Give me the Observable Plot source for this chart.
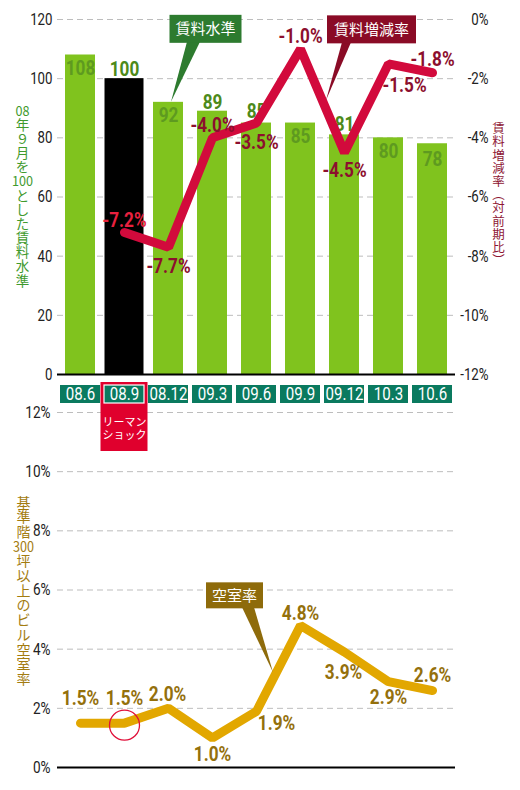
<!DOCTYPE html>
<html>
<head>
<meta charset="utf-8">
<script src="https://cdn.jsdelivr.net/npm/d3@7"></script>
<script src="https://cdn.jsdelivr.net/npm/@observablehq/plot@0.6"></script>
<style>
  body { margin: 0; background: #fff; }
  #wrap { position: relative; width: 520px; height: 790px; overflow: hidden; }
  #wrap svg { position: absolute; left: 0; overflow: visible; }
</style>
</head>
<body>
<div id="wrap"></div>
<script>
// --- data ---
const periods = ["08.6", "08.9", "08.12", "09.3", "09.6", "09.9", "09.12", "10.3", "10.6"];
const rentIndex = [108, 100, 92, 89, 85, 85, 81, 80, 78];          // 08年9月=100
const rentChange = [null, -7.2, -7.7, -4.0, -3.5, -1.0, -4.5, -1.5, -1.8]; // % 対前期比
const vacancy = [1.5, 1.5, 2.0, 1.0, 1.9, 4.8, 3.9, 2.9, 2.6];      // %
const lehman = "08.9";
const rentTicks = [0, 20, 40, 60, 80, 100, 120];
const changeTicks = [0, -2, -4, -6, -8, -10, -12];
const vacancyTicks = [0, 2, 4, 6, 8, 10, 12];

const rows = periods.map((p, i) => ({period: p, rent: rentIndex[i], change: rentChange[i], vacancy: vacancy[i]}));

const NARROW = "Roboto,'Liberation Sans',sans-serif";
const JP = "'Noto Sans CJK JP',sans-serif";
const xBand = {domain: periods, paddingInner: 0.32, paddingOuter: 0.151, axis: null};
const margins = {marginLeft: 57, marginRight: 65};

// the change axis (0..-12%) sits on the rent axis (120..0)
const toRent = v => (v + 12) * 10;

// no condensed face is installed: squeeze latin texts around their anchor
function condense(svg, regular, bold) {
  svg.querySelectorAll("text").forEach(t => {
    const fam = t.closest("[font-family]");
    if (fam && /CJK/.test(fam.getAttribute("font-family"))) {
      // numerals set upright inside vertical titles
      t.querySelectorAll("tspan").forEach(s => {
        if (/^\d+$/.test(s.textContent)) {
          s.setAttribute("textLength", 7 * s.textContent.length);
          s.setAttribute("lengthAdjust", "spacingAndGlyphs");
        }
      });
      return;
    }
    const w = t.closest("[font-weight]");
    const s = w && w.getAttribute("font-weight") === "bold" ? bold : regular;
    t.setAttribute("transform", (t.getAttribute("transform") || "") + ` scale(${s},1)`);
  });
  return svg;
}

// callout box with a pointer, placed from the scales
function callout(o) {
  return (index, scales) => {
    const bw = typeof scales.x.bandwidth === "function" ? scales.x.bandwidth() : (scales.x.bandwidth || 0);
    const tx = scales.x(o.x) + bw / 2 + o.tipDx;
    const ty = scales.y(o.y);
    const cx = tx + o.dx, cy = ty + o.dy;
    const g = d3.create("svg:g").attr("font-family", JP);
    g.append("path")
      .attr("d", `M${cx + o.b0},${cy + o.h / 2 - 1}L${tx},${ty}L${cx + o.b1},${cy + o.h / 2 - 1}Z`)
      .attr("fill", o.fill);
    g.append("rect")
      .attr("x", cx - o.w / 2).attr("y", cy - o.h / 2)
      .attr("width", o.w).attr("height", o.h)
      .attr("fill", o.fill);
    g.append("text")
      .attr("x", cx).attr("y", cy).attr("dy", "0.36em")
      .attr("text-anchor", "middle")
      .attr("fill", "#fff")
      .attr("font-size", 15)
      .text(o.label);
    return g.node();
  };
}

// ---------- top: rent level bars + rent change line ----------
const barDy = [14, -9, 13, -9, -11, 14, -10, 14, 16];
const barInside = [true, false, true, false, false, true, false, true, true];
const changeOff = [null, [0, -12], [0, 19], [0, -12], [0, 20], [0, -12], [0, 18], [16, 22], [0, -13]];

const rentChart = Plot.plot({
  width: 520,
  height: 381,
  marginTop: 19,
  marginBottom: 7,
  ...margins,
  style: {fontFamily: NARROW, background: "transparent", color: "#222"},
  x: xBand,
  y: {domain: [0, 120], axis: null},
  marks: [
    Plot.ruleY(rentTicks.filter(d => d > 0), {stroke: "#bdbdbd", strokeDasharray: "6,4"}),
    Plot.text(rentTicks, {y: d => d, text: d => String(d), frameAnchor: "left", textAnchor: "end", dx: -5, fontSize: 17, fill: "#222"}),
    Plot.text(changeTicks, {y: toRent, text: d => d + "%", frameAnchor: "right", textAnchor: "end", dx: 33, fontSize: 17, fill: "#222"}),
    Plot.barY(rows.filter(d => d.period !== lehman), {x: "period", y: "rent", fill: "#80c31e"}),
    Plot.barY(rows.filter(d => d.period === lehman), {x: "period", y: "rent", fill: "#000", insetLeft: -4.5, insetRight: -4.5}),
    Plot.ruleY([0], {stroke: "#000", strokeWidth: 2}),
    ...rows.map((d, i) => Plot.text([d], {
      x: "period", y: "rent", text: d => String(d.rent), dy: barDy[i],
      fill: barInside[i] ? "#5e9a20" : "#4d8a1a", fontWeight: "bold", fontSize: 20
    })),
    Plot.line(rows, {
      x: "period", y: d => d.change == null ? NaN : toRent(d.change),
      stroke: "#d20a3c", strokeWidth: 9, strokeLinejoin: "miter", strokeLinecap: "round"
    }),
    ...rows.filter(d => d.change != null).map(d => {
      const i = periods.indexOf(d.period);
      return Plot.text([d], {
        x: "period", y: d => toRent(d.change), text: d => d.change.toFixed(1) + "%",
        dx: changeOff[i][0], dy: changeOff[i][1],
        fill: d.period === lehman ? "#e8213f" : "#8c0f2e", fontWeight: "bold", fontSize: 20
      });
    }),
    Plot.text(["08\n年\n９\n月\nを\n100\nと\nし\nた\n賃\n料\n水\n準"], {
      text: d => d, frameAnchor: "left", textAnchor: "middle", dx: -35, dy: -1,
      fontFamily: JP, fontSize: 13.5, lineHeight: 1.05, fill: "#3f9a2e"
    }),
    Plot.text(["賃\n料\n増\n減\n率\n︵\n対\n前\n期\n比\n︶"], {
      text: d => d, frameAnchor: "right", textAnchor: "middle", dx: 43, dy: -2,
      fontFamily: JP, fontSize: 12.5, lineHeight: 1.06, fill: "#8e1634"
    }),
    callout({label: "賃料水準", fill: "#2d7b2f", x: "08.12", tipDx: 3, y: 92, dx: 34.5, dy: -73, w: 72, h: 28, b0: -18.5, b1: -5.5}),
    callout({label: "賃料増減率", fill: "#8a0b26", x: "09.12", tipDx: -18, y: toRent(-2.75), dx: 45.5, dy: -71, w: 89, h: 28, b0: -29.5, b1: -20.5})
  ]
});

// ---------- bottom: vacancy rate ----------
const vacOff = [[0, -25], [0, -25], [-1, -14], [0, 17], [20, 12], [0, -12], [-1, 20], [0, 16], [0, -15]];

const vacancyChart = Plot.plot({
  width: 520,
  height: 387,
  marginTop: 12,
  marginBottom: 20,
  ...margins,
  style: {fontFamily: NARROW, background: "transparent", color: "#222"},
  x: xBand,
  y: {domain: [0, 12], axis: null},
  marks: [
    Plot.ruleY(vacancyTicks.filter(d => d > 0), {stroke: "#bdbdbd", strokeDasharray: "6,4"}),
    Plot.text(vacancyTicks, {y: d => d, text: d => d + "%", frameAnchor: "left", textAnchor: "end", dx: -7, fontSize: 17, fill: "#222"}),
    Plot.ruleY([0], {stroke: "#000", strokeWidth: 2}),
    Plot.line(rows, {x: "period", y: "vacancy", stroke: "#e2a700", strokeWidth: 9, strokeLinejoin: "miter", strokeLinecap: "round"}),
    Plot.dot(rows.filter(d => d.period === lehman), {x: "period", y: "vacancy", r: 15, stroke: "#e0103a", strokeWidth: 1.3, fill: "none", dy: 2}),
    ...rows.map((d, i) => Plot.text([d], {
      x: "period", y: "vacancy", text: d => d.vacancy.toFixed(1) + "%",
      dx: vacOff[i][0], dy: vacOff[i][1], fill: "#94700c", fontWeight: "bold", fontSize: 20
    })),
    Plot.text(["基\n準\n階\n300\n坪\n以\n上\nの\nビ\nル\n空\n室\n率"], {
      text: d => d, frameAnchor: "left", textAnchor: "middle", dx: -34, dy: 1,
      fontFamily: JP, fontSize: 14, lineHeight: 1.05, fill: "#a37c10"
    }),
    callout({label: "空室率", fill: "#8e6b0b", x: "09.6", tipDx: 17, y: 3.2, dx: -38.5, dy: -77, w: 57, h: 26, b0: 7.5, b1: 19.5})
  ]
});

// ---------- period strip under the top chart ----------
const strip = Plot.plot({
  width: 520,
  height: 70,
  marginTop: 0,
  marginBottom: 0,
  ...margins,
  style: {fontFamily: NARROW, background: "transparent"},
  x: {domain: periods, paddingInner: 0.1, paddingOuter: 0.041, axis: null},
  y: {domain: ["label", "n1", "n2"], padding: 0, axis: null},
  marks: [
    Plot.ruleX(periods.slice(1), {x: d => d, y: () => "label", dx: -22.15, stroke: "#9a9a9a", strokeWidth: 2}),
    Plot.cell(["label", "n1", "n2"], {x: () => lehman, y: d => d, fill: "#e0002d", insetLeft: -3.5, insetRight: -3.5, insetTop: 0, insetBottom: 0}),
    Plot.cell(periods, {x: d => d, y: () => "label", fill: "#0a7a5f", insetTop: 3, insetBottom: 2,
      stroke: d => d === lehman ? "#fff" : "none", strokeWidth: 1.2}),
    Plot.text(periods, {x: d => d, y: () => "label", text: d => d, fill: "#fff", fontSize: 17.5, dy: 0.5}),
    Plot.text(["リーマン\nショック"], {x: () => lehman, y: () => "n2", text: d => d, dy: -11.5, fill: "#fff",
      fontFamily: JP, fontSize: 11, lineHeight: 1.18})
  ]
});

const wrap = d3.select("#wrap");
wrap.append(() => condense(rentChart, 0.78, 0.86)).style("top", "0px");
wrap.append(() => condense(vacancyChart, 0.8, 0.86)).style("top", "400px");
wrap.append(() => condense(strip, 0.86, 0.86)).style("top", "381px");
</script>
</body>
</html>
